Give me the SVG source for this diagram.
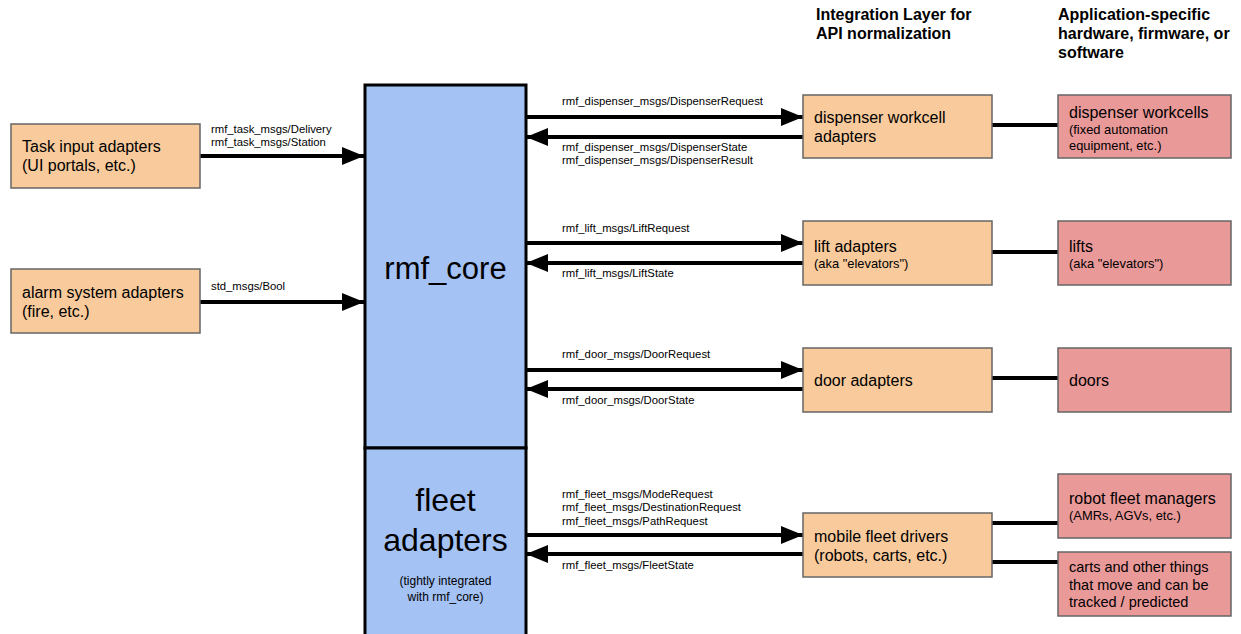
<svg xmlns="http://www.w3.org/2000/svg" width="1241" height="634" viewBox="0 0 1241 634">
  <style>
    text { font-family: "Liberation Sans", Arial, sans-serif; fill: #000; }
    .adapter { fill: #f9cb9c; stroke: #666; stroke-width: 1.5; }
    .device { fill: #ea9999; stroke: #666; stroke-width: 1.5; }
    .core { fill: #a4c2f4; stroke: #000; stroke-width: 3; }
    .head { font-size: 16px; font-weight: bold; }
    .big { font-size: 16px; }
    .small { font-size: 12.9px; }
    .note { font-size: 14.5px; }
    .msg { font-size: 11.3px; }
    .wire { stroke: #000; stroke-width: 4; fill: none; }
    .link { stroke: #000; stroke-width: 4; fill: none; }
  </style>
  <defs>
    <marker id="arrow" markerUnits="userSpaceOnUse" markerWidth="24" markerHeight="18" refX="22" refY="9" orient="auto">
      <path d="M0,0 L22,9 L0,18 Z" fill="#000"/>
    </marker>
  </defs>
  <rect width="1241" height="634" fill="#fff"/>

  <!-- column headers -->
  <g id="header-integration">
    <text class="head" x="816" y="20">Integration Layer for</text>
    <text class="head" x="816" y="39">API normalization</text>
  </g>
  <g id="header-application">
    <text class="head" x="1058" y="20">Application-specific</text>
    <text class="head" x="1058" y="39">hardware, firmware, or</text>
    <text class="head" x="1058" y="58">software</text>
  </g>

  <!-- connectors -->
  <g id="connectors">
    <line class="wire" x1="200" y1="156" x2="364" y2="156" marker-end="url(#arrow)"/>
    <line class="wire" x1="200" y1="302" x2="364" y2="302" marker-end="url(#arrow)"/>

    <line class="wire" x1="526" y1="117" x2="803" y2="117" marker-end="url(#arrow)"/>
    <line class="wire" x1="803" y1="137" x2="526" y2="137" marker-end="url(#arrow)"/>

    <line class="wire" x1="526" y1="243" x2="803" y2="243" marker-end="url(#arrow)"/>
    <line class="wire" x1="803" y1="263" x2="526" y2="263" marker-end="url(#arrow)"/>

    <line class="wire" x1="526" y1="370" x2="803" y2="370" marker-end="url(#arrow)"/>
    <line class="wire" x1="803" y1="389" x2="526" y2="389" marker-end="url(#arrow)"/>

    <line class="wire" x1="526" y1="535" x2="803" y2="535" marker-end="url(#arrow)"/>
    <line class="wire" x1="803" y1="554" x2="526" y2="554" marker-end="url(#arrow)"/>

    <line class="link" x1="992" y1="125" x2="1058" y2="125"/>
    <line class="link" x1="992" y1="252" x2="1058" y2="252"/>
    <line class="link" x1="992" y1="378" x2="1058" y2="378"/>
    <line class="link" x1="992" y1="523" x2="1058" y2="523"/>
    <line class="link" x1="992" y1="562" x2="1058" y2="562"/>

    <text class="msg" x="211" y="133">rmf_task_msgs/Delivery</text>
    <text class="msg" x="211" y="146">rmf_task_msgs/Station</text>
    <text class="msg" x="211" y="290">std_msgs/Bool</text>

    <text class="msg" x="562" y="105">rmf_dispenser_msgs/DispenserRequest</text>
    <text class="msg" x="562" y="151">rmf_dispenser_msgs/DispenserState</text>
    <text class="msg" x="562" y="164">rmf_dispenser_msgs/DispenserResult</text>

    <text class="msg" x="562" y="232">rmf_lift_msgs/LiftRequest</text>
    <text class="msg" x="562" y="277">rmf_lift_msgs/LiftState</text>

    <text class="msg" x="562" y="358">rmf_door_msgs/DoorRequest</text>
    <text class="msg" x="562" y="404">rmf_door_msgs/DoorState</text>

    <text class="msg" x="562" y="498">rmf_fleet_msgs/ModeRequest</text>
    <text class="msg" x="562" y="511">rmf_fleet_msgs/DestinationRequest</text>
    <text class="msg" x="562" y="525">rmf_fleet_msgs/PathRequest</text>
    <text class="msg" x="562" y="569">rmf_fleet_msgs/FleetState</text>
  </g>

  <!-- input adapters -->
  <g id="task-input-adapters">
    <rect class="adapter" x="11" y="124" width="189" height="64"/>
    <text class="big" x="22" y="152">Task input adapters</text>
    <text class="big" x="22" y="171">(UI portals, etc.)</text>
  </g>
  <g id="alarm-system-adapters">
    <rect class="adapter" x="11" y="269" width="189" height="64"/>
    <text class="big" x="22" y="298">alarm system adapters</text>
    <text class="big" x="22" y="317">(fire, etc.)</text>
  </g>

  <!-- core -->
  <g id="rmf-core">
    <rect class="core" x="365" y="85" width="161" height="363"/>
    <text x="445.5" y="279" font-size="31" text-anchor="middle">rmf_core</text>
  </g>
  <g id="fleet-adapters">
    <rect class="core" x="365" y="448" width="161" height="190"/>
    <text x="445.5" y="511" font-size="32" text-anchor="middle">fleet</text>
    <text x="445.5" y="551" font-size="32" text-anchor="middle">adapters</text>
    <text x="445.5" y="585" font-size="12" text-anchor="middle">(tightly integrated</text>
    <text x="445.5" y="601" font-size="12" text-anchor="middle">with rmf_core)</text>
  </g>

  <!-- integration layer -->
  <g id="dispenser-workcell-adapters">
    <rect class="adapter" x="803" y="95" width="189" height="63"/>
    <text class="big" x="814" y="123">dispenser workcell</text>
    <text class="big" x="814" y="142">adapters</text>
  </g>
  <g id="lift-adapters">
    <rect class="adapter" x="803" y="221" width="189" height="64"/>
    <text class="big" x="814" y="252">lift adapters</text>
    <text class="small" x="814" y="268">(aka "elevators")</text>
  </g>
  <g id="door-adapters">
    <rect class="adapter" x="803" y="348" width="189" height="64"/>
    <text class="big" x="814" y="386">door adapters</text>
  </g>
  <g id="mobile-fleet-drivers">
    <rect class="adapter" x="803" y="513" width="189" height="64"/>
    <text class="big" x="814" y="542">mobile fleet drivers</text>
    <text class="big" x="814" y="561">(robots, carts, etc.)</text>
  </g>

  <!-- application-specific systems -->
  <g id="dispenser-workcells">
    <rect class="device" x="1058" y="95" width="173" height="63"/>
    <text class="big" x="1069" y="118">dispenser workcells</text>
    <text class="small" x="1069" y="134">(fixed automation</text>
    <text class="small" x="1069" y="150">equipment, etc.)</text>
  </g>
  <g id="lifts">
    <rect class="device" x="1058" y="221" width="173" height="64"/>
    <text class="big" x="1069" y="252">lifts</text>
    <text class="small" x="1069" y="268">(aka "elevators")</text>
  </g>
  <g id="doors">
    <rect class="device" x="1058" y="348" width="173" height="64"/>
    <text class="big" x="1069" y="386">doors</text>
  </g>
  <g id="robot-fleet-managers">
    <rect class="device" x="1058" y="474" width="173" height="64"/>
    <text class="big" x="1069" y="504">robot fleet managers</text>
    <text class="small" x="1069" y="520">(AMRs, AGVs, etc.)</text>
  </g>
  <g id="carts-and-other-things">
    <rect class="device" x="1058" y="552" width="173" height="64"/>
    <text class="note" x="1069" y="572">carts and other things</text>
    <text class="note" x="1069" y="590">that move and can be</text>
    <text class="note" x="1069" y="607">tracked / predicted</text>
  </g>
</svg>
